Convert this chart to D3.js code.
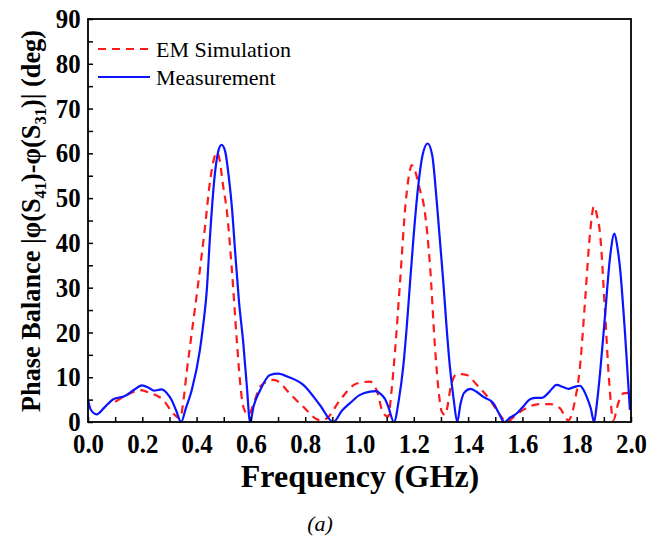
<!DOCTYPE html>
<html><head><meta charset="utf-8">
<script src="https://cdn.jsdelivr.net/npm/d3@7"></script>
<style>body{margin:0;background:#fff}svg{display:block}</style>
</head><body>
<svg id="c" width="664" height="537"></svg>
<script>
const freqMeas=[0.000,0.010,0.032,0.060,0.093,0.136,0.170,0.198,0.225,0.243,0.271,0.290,0.308,0.325,0.343,0.360,0.382,0.412,0.425,0.437,0.450,0.465,0.480,0.492,0.505,0.518,0.530,0.542,0.556,0.572,0.585,0.597,0.610,0.634,0.670,0.700,0.740,0.793,0.854,0.904,0.935,0.965,1.000,1.039,1.060,1.075,1.095,1.106,1.127,1.145,1.161,1.175,1.186,1.200,1.215,1.232,1.251,1.268,1.284,1.297,1.309,1.321,1.333,1.347,1.360,1.372,1.385,1.409,1.430,1.456,1.493,1.513,1.533,1.555,1.579,1.605,1.628,1.650,1.671,1.700,1.726,1.750,1.769,1.790,1.812,1.825,1.837,1.852,1.864,1.875,1.886,1.904,1.923,1.939,1.950,1.959,1.978,1.996];
const phaseMeas=[5.0,2.8,1.7,3.2,5.1,5.8,7.2,8.2,7.6,7.0,7.3,6.5,4.9,2.5,0.0,3.0,7.1,16,22,29,42,54,60.5,61.9,60.5,55,48,38,27,17.6,8,0.0,3.5,7.1,10.5,10.8,10.0,8.3,3.8,0.0,2.5,4.2,6.0,6.8,6.9,6.4,5.0,3.4,0.0,5,12.3,22,31,42,52,59.5,62.2,59.5,49.6,40,31,21,12.3,5,0.0,4,6.5,7.4,6.8,5.6,4.2,2,0.0,1,1.9,3.6,5.1,5.4,5.4,6.8,8.3,7.8,7.4,7.8,8.1,7.2,5.6,3,0.0,4.5,10.9,23.5,36.9,42.1,39,34.7,19.8,2.7];
const freqSim=[0.100,0.142,0.192,0.228,0.277,0.314,0.339,0.352,0.363,0.382,0.406,0.431,0.450,0.465,0.474,0.485,0.497,0.511,0.529,0.548,0.560,0.572,0.590,0.610,0.634,0.683,0.707,0.732,0.793,0.854,0.879,0.928,0.990,1.039,1.063,1.088,1.106,1.118,1.131,1.149,1.171,1.185,1.192,1.205,1.222,1.238,1.260,1.278,1.293,1.303,1.315,1.339,1.358,1.370,1.395,1.432,1.481,1.517,1.542,1.575,1.603,1.665,1.702,1.738,1.769,1.794,1.812,1.831,1.849,1.864,1.875,1.886,1.904,1.920,1.935,1.953,1.972,1.990];
const phaseSim=[4.5,6.0,7.1,6.5,4.9,1.9,0.8,5,10.9,19.8,31,43.6,54,59,60.2,58.5,53,47.3,34.7,18.3,9,3.4,1.6,4,7.9,9.4,8.8,7.1,3.4,0.4,0.8,4.9,8.6,9.0,7.1,1.9,1.2,7,16,31,49.6,56,57.4,56,52,48,34.7,16.8,6,2.3,1.6,8.6,10.7,10.7,10.5,8.3,4.9,1.6,0.0,1.5,2.7,4.0,4.0,3.1,0.4,4.9,12.3,27.2,42.1,48.2,46,42.1,25,8.6,0.4,4.2,6.4,6.5];
const xTickLabels=[0.0,0.2,0.4,0.6,0.8,1.0,1.2,1.4,1.6,1.8,2.0];
const yTickLabels=[0,10,20,30,40,50,60,70,80,90];
const seriesNames=["EM Simulation","Measurement"];

const svg=d3.select("#c");
const L=88,R=631,T=19,B=422;
const x=d3.scaleLinear().domain([0,2]).range([L,R]);
const y=d3.scaleLinear().domain([0,90]).range([B,T]);
const serif="'Liberation Serif','Times New Roman',serif";

// curves
const line=d3.line().curve(d3.curveMonotoneX);
const g=svg.append("g");
g.append("path").attr("d",line(freqSim.map((f,i)=>[x(f),y(phaseSim[i])])))
 .attr("fill","none").attr("stroke","#ff1a1a").attr("stroke-width",2.2).attr("stroke-dasharray","8,6");
g.append("path").attr("d",line(freqMeas.map((f,i)=>[x(f),y(phaseMeas[i])])))
 .attr("fill","none").attr("stroke","#0a14ff").attr("stroke-width",2.2);

// axes
const xMinor=d3.axisBottom(x).tickValues(d3.range(0,2.0001,0.1)).tickSize(-5).tickFormat("");
const yMinor=d3.axisLeft(y).tickValues(d3.range(0,90.001,5)).tickSize(-5).tickFormat("");
svg.append("g").attr("transform",`translate(0,${B})`).call(xMinor).call(a=>a.select(".domain").remove());
svg.append("g").attr("transform",`translate(${L},0)`).call(yMinor).call(a=>a.select(".domain").remove());
svg.selectAll(".tick line").attr("stroke","#000").attr("stroke-width",1.5);

const xAx=d3.axisBottom(x).tickValues(xTickLabels).tickSize(0).tickPadding(12).tickFormat(d3.format(".1f"));
svg.append("g").attr("transform",`translate(0,${B})`).call(xAx)
 .call(a=>a.select(".domain").remove())
 .selectAll("text").attr("font-family",serif).attr("font-weight","bold").attr("font-size",27).attr("fill","#000")
 .attr("transform","scale(0.92,1)");
const yAx=d3.axisLeft(y).tickValues(yTickLabels).tickSize(0).tickPadding(8);
svg.append("g").attr("transform",`translate(${L},0)`).call(yAx)
 .call(a=>a.select(".domain").remove())
 .selectAll("text").attr("font-family",serif).attr("font-weight","bold").attr("font-size",27).attr("fill","#000")
 .attr("transform","scale(0.92,1)");

// frame
svg.append("rect").attr("x",L).attr("y",T).attr("width",R-L).attr("height",B-T)
 .attr("fill","none").attr("stroke","#000").attr("stroke-width",1.8);

// legend
const leg=svg.append("g");
leg.append("line").attr("x1",98).attr("x2",150).attr("y1",49).attr("y2",49)
 .attr("stroke","#ff1a1a").attr("stroke-width",2.2).attr("stroke-dasharray","8,6");
leg.append("line").attr("x1",98).attr("x2",150).attr("y1",77).attr("y2",77)
 .attr("stroke","#0a14ff").attr("stroke-width",2.2);
leg.append("text").attr("x",156).attr("y",57).text(seriesNames[0])
 .attr("font-family",serif).attr("font-size",22).attr("fill","#000");
leg.append("text").attr("x",156).attr("y",85).text(seriesNames[1])
 .attr("font-family",serif).attr("font-size",22).attr("fill","#000");

// axis titles
svg.append("text").attr("x",360).attr("y",487).attr("text-anchor","middle")
 .attr("font-family",serif).attr("font-weight","bold").attr("font-size",32).attr("fill","#000")
 .text("Frequency (GHz)");
const yt=svg.append("text").attr("transform","translate(40,221) rotate(-90)").attr("text-anchor","middle")
 .attr("font-family",serif).attr("font-weight","bold").attr("font-size",26.3).attr("fill","#000");
yt.append("tspan").text("Phase Balance |φ(S");
yt.append("tspan").attr("font-size",16.5).attr("dy",6).text("41");
yt.append("tspan").attr("dy",-6).text(")-φ(S");
yt.append("tspan").attr("font-size",16.5).attr("dy",6).text("31");
yt.append("tspan").attr("dy",-6).text(")| (deg)");

svg.append("text").attr("x",320).attr("y",531).attr("text-anchor","middle")
 .attr("font-family",serif).attr("font-style","italic").attr("font-size",22).attr("fill","#000").text("(a)");
</script>
</body></html>
